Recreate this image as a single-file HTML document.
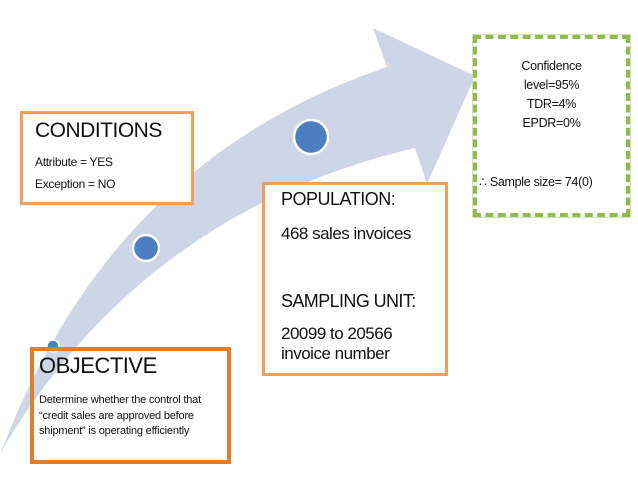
<!DOCTYPE html>
<html><head><meta charset="utf-8"><style>
body{margin:0;width:638px;height:479px;background:#fff;position:relative;overflow:hidden;font-family:"Liberation Sans",sans-serif;color:#111}
.b{position:absolute;box-sizing:border-box;background:#fff}
</style></head><body>
<svg width="638" height="479" style="position:absolute;left:0;top:0">
<path d="M0,455 Q110,160 387,67 L373,28 L475,76 L427,184 L415,148 Q150,210 8,440 Z" fill="#cdd6e7"/>
<circle cx="311" cy="137" r="17" fill="#4d7fc0" stroke="#fff" stroke-width="2.5"/>
<circle cx="146" cy="248" r="13" fill="#4d7fc0" stroke="#fff" stroke-width="2.5"/>
</svg>
<div class="b" style="left:20px;top:111px;width:174px;height:94px;border:3px solid #f0a05a;padding:2px 0 0 12px">
<div style="font-size:21px;line-height:30px;letter-spacing:-0.5px">CONDITIONS</div>
<div style="font-size:12px;line-height:22px;margin-top:5px;letter-spacing:-0.3px">Attribute = YES<br>Exception = NO</div>
</div>
<div class="b" style="left:262px;top:182px;width:186px;height:194px;border:3px solid #f0a05a;padding:0 0 0 16px">
<div style="font-size:18px;line-height:26px;margin-top:1px;letter-spacing:-0.5px">POPULATION:</div>
<div style="font-size:17px;line-height:22px;margin-top:11px;letter-spacing:-0.5px">468 sales invoices</div>
<div style="font-size:18px;line-height:26px;margin-top:43px;letter-spacing:-0.6px">SAMPLING UNIT:</div>
<div style="font-size:17px;line-height:20px;margin-top:10px;letter-spacing:-0.5px">20099 to 20566<br>invoice number</div>
</div>
<svg width="30" height="30" style="position:absolute;left:40px;top:333px"><circle cx="13" cy="13" r="6" fill="#4d7fc0" stroke="#fff" stroke-width="1.5"/></svg>
<div class="b" style="left:30px;top:347px;width:201px;height:117px;border:4px solid #e27d2e;padding:0 0 0 5px;background:transparent">
<div style="font-size:22px;line-height:30px;letter-spacing:-0.5px">OBJECTIVE</div>
<div style="font-size:11px;line-height:15.5px;margin-top:12px;letter-spacing:-0.2px">Determine whether the control that “credit sales are approved before shipment” is operating efficiently</div>
</div>
<div class="b" style="left:473px;top:35px;width:157px;height:182px;border:4px dashed #8fbc4f;outline:1px solid #cfe0b8;text-align:center;font-size:12.5px;line-height:19px;padding-top:18px;letter-spacing:-0.3px">
Confidence<br>level=95%<br>TDR=4%<br>EPDR=0%
<div style="margin-top:40px;text-align:left;padding-left:2px">∴ Sample size= 74(0)</div>
</div>
</body></html>
